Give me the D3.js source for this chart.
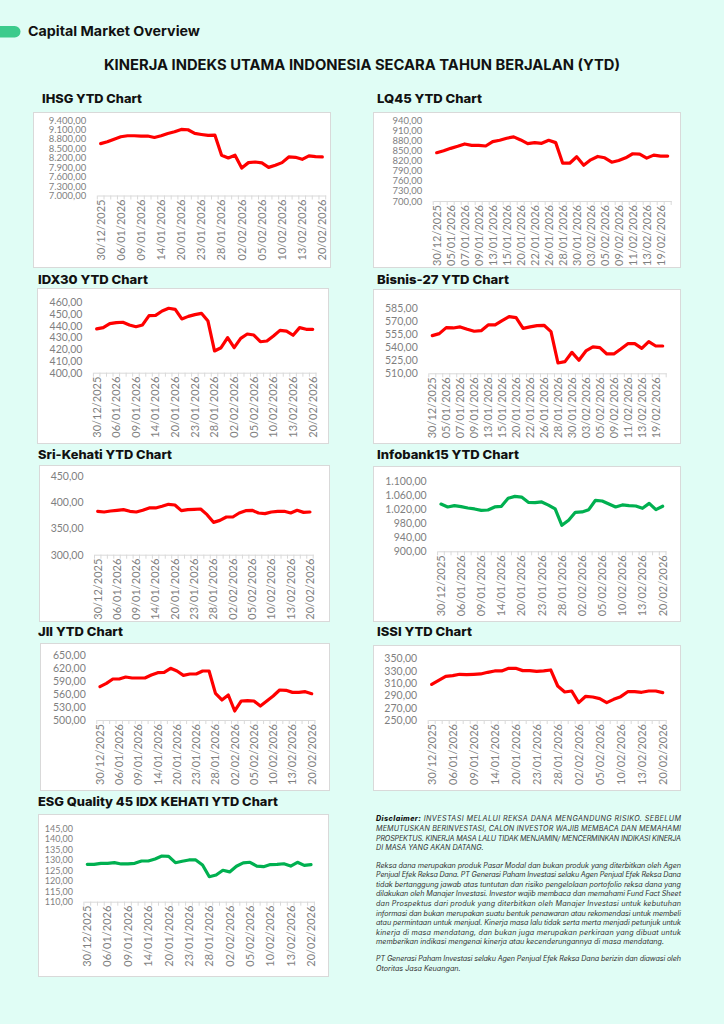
<!DOCTYPE html>
<html><head><meta charset="utf-8">
<script src="https://cdn.jsdelivr.net/npm/d3@7"></script>
<style>
html,body{margin:0;padding:0;background:#E0FDF5;}
svg{display:block;}
</style></head><body>
<svg id="c" width="724" height="1024"></svg>
<script>
// ---------- DATA ----------
const dates = ["30/12/2025","02/01/2026","05/01/2026","06/01/2026","07/01/2026","08/01/2026","09/01/2026","12/01/2026","13/01/2026","14/01/2026","15/01/2026","19/01/2026","20/01/2026","21/01/2026","22/01/2026","23/01/2026","26/01/2026","27/01/2026","28/01/2026","29/01/2026","30/01/2026","02/02/2026","03/02/2026","04/02/2026","05/02/2026","06/02/2026","09/02/2026","10/02/2026","11/02/2026","12/02/2026","13/02/2026","18/02/2026","19/02/2026","20/02/2026"];

const ihsg = [8650,8707,8790,8867,8900,8900,8890,8890,8845,8900,8973,9025,9100,9090,8973,8940,8910,8920,8280,8195,8280,7875,8045,8065,8035,7895,7960,8045,8225,8215,8150,8260,8235,8225];
const lq45 = [843,849,856,862,869,865,865,863,876,880,886,890,881,870,873,871,880,873,812,812,831,806,822,832,828,815,820,828,840,839,827,836,833,833];
const idx30 = [437.3,438.4,441.8,442.7,443,440.7,439.2,440.7,448.6,448.9,452.6,454.9,454,445.8,448,449.5,450.6,444,418.5,421.3,429.9,421.3,429.3,433,432.1,426.4,427,431.3,436.1,435.5,431.9,438.4,437,437];
const bisnis27 = [553.5,555.8,562.7,562.3,563.5,560.8,558.5,559.2,565.8,565.8,570.8,575.4,574.2,561.9,563.5,565,565.4,558.1,521.9,523.5,534.2,525,535.8,540.4,539.6,532.3,532.3,538.1,544.2,544.2,538.8,546.5,541.5,541.5];
const sriKehati = [383,381.7,383.6,384.9,386.2,383,381.7,384.9,389.4,389.4,392.6,396.4,395.1,384.3,386.2,386.8,387.4,376.6,361.9,365.7,372.1,372.1,379.8,384.3,384.9,379.8,378.5,381.7,383,383,379.8,384.9,381,381.7];
const infobank15 = [1035,1026.7,1030.5,1027.6,1023.8,1021,1017,1018,1026.7,1028.6,1051.4,1057,1055,1040,1039,1041,1032,1021,974.3,988.6,1011.4,1012.4,1019,1045.7,1043.8,1035,1026.7,1032.4,1030.5,1029.5,1022.9,1037,1019,1028.6];
const jii = [576.9,584.6,594.6,594.6,599.2,596.9,596.9,596.9,603.8,609.2,610,619.2,613.1,603.1,606.2,606.2,613.1,613.1,561.5,546.2,557.7,520.8,543.8,544.6,543.8,532.3,543.8,555.4,569.2,568.5,563.8,563.8,565.4,560.8];
const issi = [307.8,314.3,320.8,321.9,324.1,323.5,324.1,324.6,327.3,329.5,329.5,333.8,333.8,330,330,328.9,329.5,331.1,305.1,295.4,297,278.1,288.4,287.3,284.6,278.1,283.5,287.8,295.9,295.9,294.9,297,297,294.3];
const esg45 = [127.8,127.8,128.3,128.3,128.6,128,128,128.3,129.4,129.4,130.4,131.8,131.6,128.6,129.3,129.9,129.9,127.5,121.9,122.7,125,124.2,126.9,128.5,128.8,127,126.7,127.7,127.8,128.1,127,128.8,127.3,127.7];

const ihsgTicks = [7000,7300,7600,7900,8200,8500,8800,9100,9400];
const lq45Ticks = [700,730,760,790,820,850,880,910,940];
const idx30Ticks = [400,410,420,430,440,450,460];
const bisnis27Ticks = [510,525,540,555,570,585];
const sriKehatiTicks = [300,350,400,450];
const infobank15Ticks = [900,940,980,1020,1060,1100];
const jiiTicks = [500,530,560,590,620,650];
const issiTicks = [250,270,290,310,330,350];
const esg45Ticks = [110,115,120,125,130,135,140,145];

const titles = ["IHSG YTD Chart","LQ45 YTD Chart","IDX30 YTD Chart","Bisnis-27 YTD Chart","Sri-Kehati YTD Chart","Infobank15 YTD Chart","JII YTD Chart","ISSI YTD Chart","ESG Quality 45 IDX KEHATI YTD Chart"];

// ---------- LAYOUT ----------
const RED = "#FF0000", GREEN = "#00B050";
const charts = [
 {title:titles[0], data:ihsg, ticks:ihsgTicks, color:RED, every:3, panel:[33,112,297,155], tx:42, ty:103, tw:100, px:[97.3,325.7], py:[195.5,120], yfs:9.5},
 {title:titles[1], data:lq45, ticks:lq45Ticks, color:RED, every:2, panel:[373,112,307,155], tx:377, ty:103, tw:105, px:[433.2,671.2], py:[201,120], yfs:9.5},
 {title:titles[2], data:idx30, ticks:idx30Ticks, color:RED, every:3, panel:[37,288,291,155], tx:38, ty:284, tw:110, px:[93.4,316], py:[372.7,302.3], yfs:10.5},
 {title:titles[3], data:bisnis27, ticks:bisnis27Ticks, color:RED, every:2, panel:[373,289,307,154], tx:377, ty:284, tw:132, px:[428.8,666.2], py:[373.3,308.3], yfs:10.5},
 {title:titles[4], data:sriKehati, ticks:sriKehatiTicks, color:RED, every:3, panel:[39,465,290,156], tx:38, ty:459, tw:134, px:[94.5,313.2], py:[554.7,476.3], yfs:10.5},
 {title:titles[5], data:infobank15, ticks:infobank15Ticks, color:GREEN, every:3, panel:[373,466,307,155], tx:377, ty:459, tw:142, px:[437.6,666], py:[551.3,481.3], yfs:10.5},
 {title:titles[6], data:jii, ticks:jiiTicks, color:RED, every:3, panel:[40,643,289,147], tx:38, ty:636, tw:85, px:[96.8,314.9], py:[720,655], yfs:10.5},
 {title:titles[7], data:issi, ticks:issiTicks, color:RED, every:3, panel:[373,645,307,145], tx:377, ty:636, tw:95, px:[428.2,666.2], py:[720,658.3], yfs:10.5},
 {title:titles[8], data:esg45, ticks:esg45Ticks, color:GREEN, every:3, panel:[38,814,290,162], tx:38, ty:806, tw:240, px:[83.9,314.4], py:[901.7,828.3], yfs:9}
];

const fmt = d3.formatLocale({decimal:",", thousands:".", grouping:[3], currency:["",""]}).format(",.2f");
const svg = d3.select("#c");

// header
svg.append("rect").attr("x",-10).attr("y",26).attr("width",30.5).attr("height",11.5).attr("rx",5.75).attr("fill","#3CCB8C");
svg.append("text").attr("x",28).attr("y",36.3).text("Capital Market Overview")
  .attr("font-family","Inter, 'Noto Sans', sans-serif").attr("font-weight",700).attr("font-size",13.5)
  .attr("fill","#111").attr("textLength",172).attr("lengthAdjust","spacingAndGlyphs");
svg.append("text").attr("x",104).attr("y",69.5).text("KINERJA INDEKS UTAMA INDONESIA SECARA TAHUN BERJALAN (YTD)")
  .attr("font-family","Inter, 'Noto Sans', sans-serif").attr("font-weight",700).attr("font-size",14)
  .attr("fill","#111").attr("textLength",516).attr("lengthAdjust","spacingAndGlyphs");

charts.forEach(c => {
  const g = svg.append("g");
  g.append("rect").attr("x",c.panel[0]+0.5).attr("y",c.panel[1]+0.5).attr("width",c.panel[2]).attr("height",c.panel[3])
    .attr("fill","#fff").attr("stroke","#d9d9d9");
  g.append("text").attr("x",c.tx).attr("y",c.ty).text(c.title)
    .attr("font-family","Inter, 'Noto Sans', sans-serif").attr("font-weight",800).attr("font-size",12)
    .attr("fill","#111").attr("textLength",c.tw).attr("lengthAdjust","spacingAndGlyphs");

  const x = d3.scaleBand().domain(dates).range(c.px).padding(0);
  const y = d3.scaleLinear().domain([c.ticks[0], c.ticks[c.ticks.length-1]]).range(c.py);

  // y axis
  const ya = g.append("g").attr("transform",`translate(${c.px[0]},0)`)
    .call(d3.axisLeft(y).tickValues(c.ticks).tickFormat(fmt).tickSize(0).tickPadding(11));
  ya.select(".domain").remove();
  ya.selectAll("text").attr("fill","#7f7f7f").attr("font-family","Lato, 'Open Sans', sans-serif").attr("font-size",c.yfs);

  // x axis
  const labels = dates.filter((d,i)=>i % c.every === 0);
  const xa = g.append("g").attr("transform",`translate(0,${c.py[0]})`)
    .call(d3.axisBottom(x).tickValues(labels).tickSize(0).tickSizeOuter(0).tickPadding(0));
  xa.select(".domain").attr("stroke","#d9d9d9").attr("stroke-width",1);
  xa.selectAll("text").attr("transform","rotate(-90)").attr("text-anchor","end")
    .attr("x",-4).attr("y",0).attr("dy","0.35em")
    .attr("fill","#7f7f7f").attr("font-family","Lato, 'Open Sans', sans-serif").attr("font-size",11);

  // category boundary tick marks
  g.append("g").selectAll("line").data(d3.range(dates.length+1)).join("line")
    .attr("x1",i=>c.px[0]+i*x.step()).attr("x2",i=>c.px[0]+i*x.step())
    .attr("y1",c.py[0]).attr("y2",c.py[0]+4).attr("stroke","#d9d9d9").attr("stroke-width",1);

  // line
  const line = d3.line().x((d,i)=>x(dates[i])+x.bandwidth()/2).y(d=>y(d));
  g.append("path").datum(c.data).attr("d",line).attr("fill","none").attr("stroke",c.color)
    .attr("stroke-width",3.2).attr("stroke-linejoin","round").attr("stroke-linecap","round");
});

// disclaimer
const discLines = [
 {t:[["Disclaimer:",true],[" INVESTASI MELALUI REKSA DANA MENGANDUNG RISIKO. SEBELUM",false]], y:818, j:true},
 {t:[["MEMUTUSKAN BERINVESTASI, CALON INVESTOR WAJIB MEMBACA DAN MEMAHAMI",false]], y:828, j:true},
 {t:[["PROSPEKTUS. KINERJA MASA LALU TIDAK MENJAMIN/ MENCERMINKAN INDIKASI KINERJA",false]], y:838, j:true},
 {t:[["DI MASA YANG AKAN DATANG.",false]], y:847.5, j:false},
 {t:[["Reksa dana merupakan produk Pasar Modal dan bukan produk yang diterbitkan oleh Agen",false]], y:865, j:true},
 {t:[["Penjual Efek Reksa Dana. PT Generasi Paham Investasi selaku Agen Penjual Efek Reksa Dana",false]], y:874.6, j:true},
 {t:[["tidak bertanggung jawab atas tuntutan dan risiko pengelolaan portofolio reksa dana yang",false]], y:884.2, j:true},
 {t:[["dilakukan oleh Manajer Investasi. Investor wajib membaca dan memahami Fund Fact Sheet",false]], y:893.8, j:true},
 {t:[["dan Prospektus dari produk yang diterbitkan oleh Manajer Investasi untuk kebutuhan",false]], y:903.4, j:true},
 {t:[["informasi dan bukan merupakan suatu bentuk penawaran atau rekomendasi untuk membeli",false]], y:913, j:true},
 {t:[["atau permintaan untuk menjual. Kinerja masa lalu tidak serta merta menjadi petunjuk untuk",false]], y:922.6, j:true},
 {t:[["kinerja di masa mendatang, dan bukan juga merupakan perkiraan yang dibuat untuk",false]], y:932.2, j:true},
 {t:[["memberikan indikasi mengenai kinerja atau kecenderungannya di masa mendatang.",false]], y:941.8, j:false},
 {t:[["PT Generasi Paham Investasi selaku Agen Penjual Efek Reksa Dana berizin dan diawasi oleh",false]], y:958.5, j:true},
 {t:[["Otoritas Jasa Keuangan.",false]], y:968, j:false}
];
const dg = svg.append("g").attr("font-family","Inter, 'Noto Sans', sans-serif").attr("font-style","italic")
  .attr("font-size",7.2).attr("fill","#333");
discLines.forEach(l => {
  const t = dg.append("text").attr("x",376).attr("y",l.y+2.6).attr("xml:space","preserve");
  l.t.forEach(([s,b]) => t.append("tspan").attr("font-weight",b?800:400).attr("fill",b?"#111":"#333").text(s));
  if (l.j) t.attr("textLength",305).attr("lengthAdjust","spacing");
});
</script>
</body></html>
